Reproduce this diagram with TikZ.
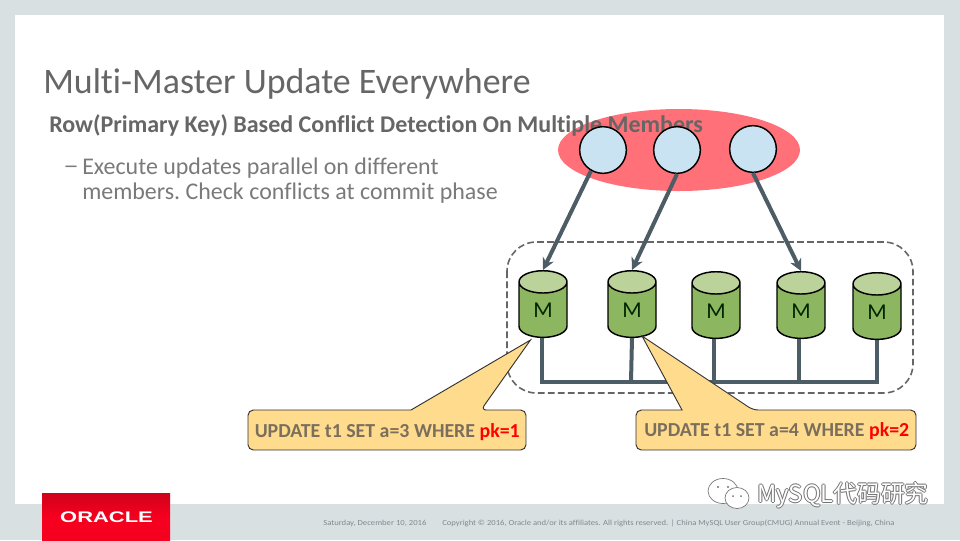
\documentclass[tikz,border=0pt]{standalone}
\usepackage{fontspec}
\setmainfont[Ligatures=NoCommon]{Carlito}
\newfontfamily\cjkwm{Noto Sans CJK SC}
\newfontfamily\orafont{Liberation Sans}
\usetikzlibrary{shapes.geometric,arrows.meta}
\definecolor{slidebg}{HTML}{D9E0E2}
\definecolor{titlegray}{HTML}{666666}
\definecolor{bodygray}{HTML}{7A7A7A}
\definecolor{ellred}{HTML}{FF7078}
\definecolor{circblue}{HTML}{C9E3F2}
\definecolor{cylgreen}{HTML}{8DB660}
\definecolor{cyltop}{HTML}{BBD29A}
\definecolor{linkgray}{HTML}{4D5D66}
\definecolor{dashgray}{HTML}{666666}
\definecolor{callfill}{HTML}{FFDB8E}
\definecolor{calltext}{HTML}{7A6F5C}
\definecolor{footgray}{HTML}{7F8A8C}
\definecolor{orared}{HTML}{F5001E}
\definecolor{oradark}{HTML}{D0021B}
\newcommand{\fs}[1]{\fontsize{#1}{#1}\selectfont}
\tikzset{
  x=0.75pt,y=-0.75pt,
  member/.style={circle,draw=black,line width=1.1pt,fill=circblue,minimum size=35pt,inner sep=0pt},
  db/.style={cylinder,shape border rotate=90,aspect=1.15,draw=black,line width=1.1pt,
    cylinder uses custom fill,cylinder body fill=cylgreen,cylinder end fill=cyltop,
    minimum width=36pt,minimum height=50pt,inner sep=0pt,font=\fs{17},text=black!85!green},
  link/.style={draw=linkgray,line width=3pt},
  arrowlink/.style={link,-{Stealth[length=9pt,width=9pt]}},
  callout/.style={draw=black!80,line width=0.7pt,fill=callfill},
  calltxt/.style={font=\bfseries\fs{14.9},text=calltext,inner sep=0pt},
  foot/.style={font=\fs{5.8},text=footgray,anchor=west,inner sep=0pt},
  wm/.style={font=\cjkwm\fs{17.8},anchor=west,inner sep=0pt},
  bodytxt/.style={anchor=west,inner sep=0pt,font=\frenchspacing\fs{17.95},text=bodygray},
}
\newcommand{\mlabel}{\raisebox{-3.5pt}{M}}
\begin{document}
\begin{tikzpicture}
\useasboundingbox (0,0) rectangle (960,540);
\fill[slidebg] (0,0) rectangle (960,540);
\fill[white] (15,15) rectangle (944,504);
% ellipse behind the subtitle
\node[ellipse,fill=ellred,minimum width=181.5pt,minimum height=61.5pt,inner sep=0pt] (group) at (679,150) {};
% texts
\node[anchor=west,inner sep=0pt,font=\fs{26.9},text=titlegray] (title) at (43,84) {Multi-Master Update Everywhere};
\node[anchor=west,inner sep=0pt,font=\bfseries\fs{18},text=titlegray] (sub) at (49,125) {Row(Primary Key) Based Conflict Detection On Multiple Members};
\node[bodytxt,xscale=1.3] (dash) at (63,170) {–};
\node[bodytxt] (l1) at (82,168) {Execute updates parallel on different};
\node[bodytxt] (l2) at (82,193) {members. Check conflicts at commit phase};
% members
\node[member] (c1) at (603,150) {};
\node[member] (c2) at (677,150) {};
\node[member] (c3) at (753,149) {};
% dashed group
\draw[dashgray,dash pattern=on 5pt off 2.5pt,line width=1.2pt,rounded corners=22pt] (507,242) rectangle (913,393);
% cylinders
\node[db] (m1) at (543,310) {\mlabel};
\node[db] (m2) at (632,310) {\mlabel};
\node[db] (m3) at (716,311) {\mlabel};
\node[db] (m4) at (801,311) {\mlabel};
\node[db] (m5) at (877,312) {\mlabel};
% bus
\coordinate (b1) at (542,382);
\coordinate (b2) at (631,382);
\coordinate (b3) at (714,382);
\coordinate (b4) at (799,382);
\coordinate (b5) at (877,382);
\draw[link,line join=miter] (m1.south -| b1) -- (b1) -- (b5) -- (m5.south -| b5);
\draw[link] (m2.south) -- (b2);
\draw[link] (m3.south -| b3) -- (b3);
\draw[link] (m4.south -| b4) -- (b4);
% arrows
\draw[arrowlink] (c1.240) -- (m1.north);
\draw[arrowlink] (c2.south) -- (m2.north);
\draw[arrowlink] (c3.south) -- (m4.north);
% callouts
\draw[callout] [rounded corners=4pt] (411,410) -- (248,410) -- (248,450) -- (526,450) -- (526,410) -- (481,410) [sharp corners] -- (530.5,340) -- cycle;
\node[calltxt,anchor=west] (q1) at (254.5,432) {UPDATE t1 SET a=3 WHERE \textcolor{red}{pk=1}};
\draw[callout] [rounded corners=4pt] (682,410) -- (636,410) -- (636,450) -- (916,450) -- (916,410) -- (753,410) [sharp corners] -- (642,336) -- cycle;
\node[calltxt,anchor=west] (q2) at (644,431) {UPDATE t1 SET a=4 WHERE \textcolor{red}{pk=2}};
% logo
\shade[top color=oradark,bottom color=orared,middle color=orared] (42,493) rectangle (170,540);
\node[font=\orafont\bfseries\fs{11.5},text=white,xscale=1.43,inner sep=0pt] (logo) at (106.5,517) {ORACLE};
% footer
\node[foot,xscale=1.12] (date) at (323,523) {Saturday, December 10, 2016};
\node[foot,xscale=1.11] (copy) at (442,523) {Copyright © 2016, Oracle and/or its affiliates. All rights reserved.  |  China MySQL User Group(CMUG) Annual Event - Beijing, China};
% watermark
\foreach \dx/\dy in {-1/0,1/0,0/-1,0/1}{
  \node[wm,text=black!55] at (757+\dx,495+\dy) {MySQL代码研究};
}
\node[wm,text=white] (wmark) at (757,495) {MySQL代码研究};
\draw[black!55,fill=white,line width=0.5pt] (723,491) ellipse [x radius=15,y radius=12.5];
\draw[black!55,fill=white,line width=0.5pt] (737,498) ellipse [x radius=12,y radius=10.5];
\fill[black!55] (718,487) circle (1.2) (728,487) circle (1.2) (733,496) circle (1) (741,496) circle (1);
\end{tikzpicture}
\end{document}
